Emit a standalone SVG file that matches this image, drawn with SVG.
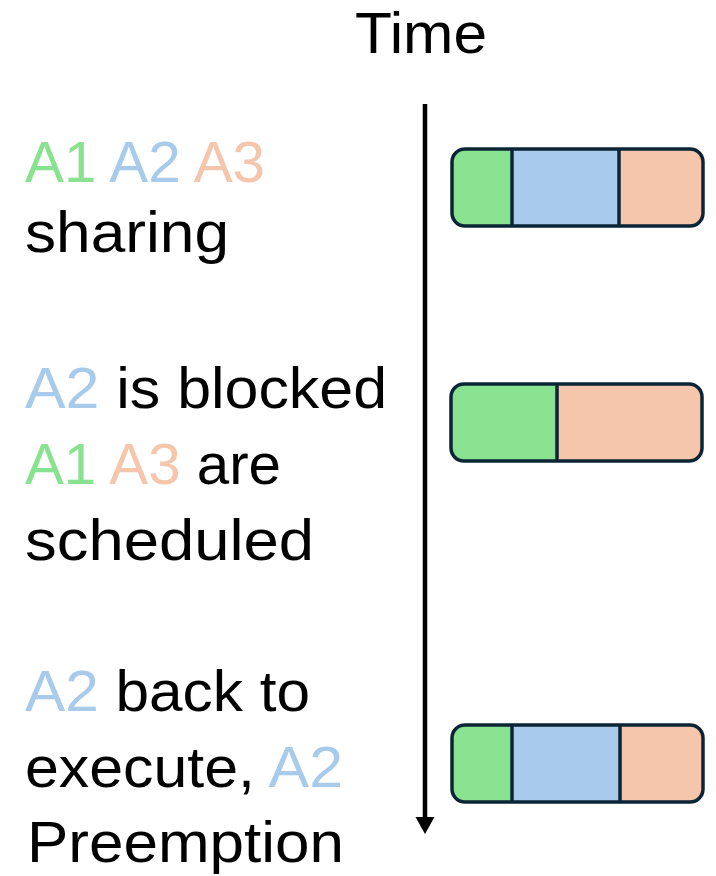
<svg xmlns="http://www.w3.org/2000/svg" width="716" height="876" viewBox="0 0 716 876">
  <style>
    .lbl { font-family: "Liberation Sans", Arial, sans-serif; font-size: 58px; fill: #000; }
    .g { fill: #88E28F; }
    .b { fill: #A8CAEB; }
    .o { fill: #F5C6AB; }
    .seg { stroke: none; }
    .frame { fill: none; stroke: #0B2536; stroke-width: 3.5; }
    .div { stroke: #0B2536; stroke-width: 3.5; }
  </style>
  <defs>
    <clipPath id="clip1"><rect x="452" y="149" width="251" height="77" rx="13"/></clipPath>
    <clipPath id="clip2"><rect x="451" y="384" width="251" height="77" rx="13"/></clipPath>
    <clipPath id="clip3"><rect x="452" y="725" width="251" height="77" rx="13"/></clipPath>
  </defs>

  <!-- axis title -->
  <g id="time-label">
    <text class="lbl" x="355" y="53" textLength="132" lengthAdjust="spacingAndGlyphs">Time</text>
  </g>

  <!-- time axis -->
  <g id="connectors">
    <line x1="425" y1="104" x2="425" y2="819" stroke="#000" stroke-width="4.5"/>
    <path d="M415.5,817 L434.5,817 L425,834 Z" fill="#000"/>
  </g>

  <!-- step 1 -->
  <g id="step1-text">
    <text class="lbl" x="25" y="182" textLength="240" lengthAdjust="spacingAndGlyphs"><tspan class="g">A1</tspan> <tspan class="b">A2</tspan> <tspan class="o">A3</tspan></text>
    <text class="lbl" x="25" y="252" textLength="204" lengthAdjust="spacingAndGlyphs">sharing</text>
  </g>
  <g id="step1-bar">
    <g clip-path="url(#clip1)">
      <rect class="seg g" x="452" y="149" width="60" height="77"/>
      <rect class="seg b" x="512" y="149" width="107" height="77"/>
      <rect class="seg o" x="619" y="149" width="84" height="77"/>
    </g>
    <line class="div" x1="512" y1="149" x2="512" y2="226"/>
    <line class="div" x1="619" y1="149" x2="619" y2="226"/>
    <rect class="frame" x="452" y="149" width="251" height="77" rx="13"/>
  </g>

  <!-- step 2 -->
  <g id="step2-text">
    <text class="lbl" x="25" y="408" textLength="362" lengthAdjust="spacingAndGlyphs"><tspan class="b">A2</tspan> is blocked</text>
    <text class="lbl" x="25" y="484" textLength="256" lengthAdjust="spacingAndGlyphs"><tspan class="g">A1</tspan> <tspan class="o">A3</tspan> are</text>
    <text class="lbl" x="25" y="560" textLength="289" lengthAdjust="spacingAndGlyphs">scheduled</text>
  </g>
  <g id="step2-bar">
    <g clip-path="url(#clip2)">
      <rect class="seg g" x="451" y="384" width="106" height="77"/>
      <rect class="seg o" x="557" y="384" width="145" height="77"/>
    </g>
    <line class="div" x1="557" y1="384" x2="557" y2="461"/>
    <rect class="frame" x="451" y="384" width="251" height="77" rx="13"/>
  </g>

  <!-- step 3 -->
  <g id="step3-text">
    <text class="lbl" x="25" y="711" textLength="285" lengthAdjust="spacingAndGlyphs"><tspan class="b">A2</tspan> back to</text>
    <text class="lbl" x="25" y="787" textLength="318" lengthAdjust="spacingAndGlyphs">execute, <tspan class="b">A2</tspan></text>
    <text class="lbl" x="27" y="862" textLength="317" lengthAdjust="spacingAndGlyphs">Preemption</text>
  </g>
  <g id="step3-bar">
    <g clip-path="url(#clip3)">
      <rect class="seg g" x="452" y="725" width="60" height="77"/>
      <rect class="seg b" x="512" y="725" width="108" height="77"/>
      <rect class="seg o" x="620" y="725" width="83" height="77"/>
    </g>
    <line class="div" x1="512" y1="725" x2="512" y2="802"/>
    <line class="div" x1="620" y1="725" x2="620" y2="802"/>
    <rect class="frame" x="452" y="725" width="251" height="77" rx="13"/>
  </g>
</svg>
